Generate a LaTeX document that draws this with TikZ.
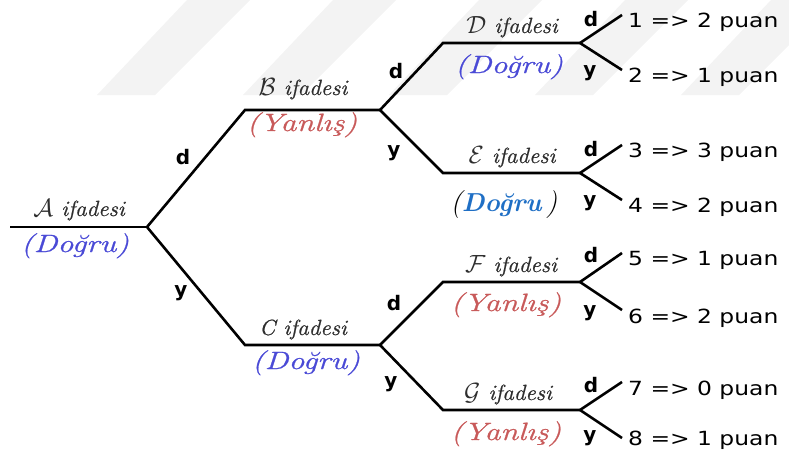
\documentclass[tikz,border=0pt]{standalone}
\usepackage{fontspec}
\newfontfamily\leafsans[FakeStretch=1.2]{DejaVu Sans}
\newfontfamily\dysans{DejaVu Sans}
\newfontfamily\ifdfont[FakeStretch=1.05,FakeBold=0.8]{Latin Modern Roman}
\newfontfamily\dogfont[FakeStretch=1.28,FakeBold=0.9]{Latin Modern Roman}
\definecolor{dogru}{HTML}{4A4AD6}
\definecolor{yanlis}{HTML}{C85A5A}
\definecolor{dogrue}{HTML}{1F6FC5}
\definecolor{stripe}{HTML}{F3F3F3}
\definecolor{ifd}{HTML}{2E2E2E}
\newcommand{\capl}[1]{{\fontsize{26}{26}\selectfont$\mathcal{#1}$}}
\tikzset{
  branch/.style={line width=2.6pt, line join=miter, line cap=butt},
  leaf/.style={anchor=base west, inner sep=0pt, font=\leafsans\fontsize{19.5}{22}\selectfont},
  dy/.style={anchor=base, inner sep=0pt, font=\dysans\bfseries\fontsize{20}{22}\selectfont},
  ifad/.style={anchor=base, inner sep=0pt, text=ifd, font=\ifdfont\itshape\fontsize{22}{24}\selectfont},
  dog/.style={anchor=base, inner sep=0pt, text=dogru, font=\dogfont\itshape\fontsize{25}{27}\selectfont},
  yan/.style={anchor=base, inner sep=0pt, text=yanlis, font=\dogfont\itshape\fontsize{25}{27}\selectfont},
}
\begin{document}
\begin{tikzpicture}[x=1pt,y=-1pt]
\useasboundingbox (0,0) rectangle (789,456);
\clip (0,0) rectangle (789,456);
% faint background stripes
\foreach \k in {0,...,4}{
  \fill[stripe] ({97+146*\k},95) -- ({155+146*\k},95) -- ({250+146*\k},0) -- ({187+146*\k},0) -- cycle;
}
% coordinates
\coordinate (A0) at (10,227);  \coordinate (A1) at (147,227);
\coordinate (B0) at (245,110); \coordinate (B1) at (380,110);
\coordinate (C0) at (245,345); \coordinate (C1) at (380,345);
\coordinate (D0) at (443,43);  \coordinate (D1) at (580,43);
\coordinate (E0) at (443,173); \coordinate (E1) at (580,173);
\coordinate (F0) at (443,282); \coordinate (F1) at (580,282);
\coordinate (G0) at (443,410); \coordinate (G1) at (580,410);
\coordinate (L1) at (622,15);  \coordinate (L2) at (622,70);
\coordinate (L3) at (622,145); \coordinate (L4) at (622,200);
\coordinate (L5) at (622,253); \coordinate (L6) at (622,310);
\coordinate (L7) at (622,382); \coordinate (L8) at (622,438);
% branches
\draw[branch] (A0) -- (A1);
\draw[branch] (A1) -- (B0) -- (B1);
\draw[branch] (A1) -- (C0) -- (C1);
\draw[branch] (B1) -- (D0) -- (D1);
\draw[branch] (B1) -- (E0) -- (E1);
\draw[branch] (C1) -- (F0) -- (F1);
\draw[branch] (C1) -- (G0) -- (G1);
\draw[branch] (D1) -- (L1); \draw[branch] (D1) -- (L2);
\draw[branch] (E1) -- (L3); \draw[branch] (E1) -- (L4);
\draw[branch] (F1) -- (L5); \draw[branch] (F1) -- (L6);
\draw[branch] (G1) -- (L7); \draw[branch] (G1) -- (L8);
% leaf texts
\node[leaf] (t1) at (628,27)  {1 => 2 puan};
\node[leaf] (t2) at (628,82)  {2 => 1 puan};
\node[leaf] (t3) at (628,157) {3 => 3 puan};
\node[leaf] (t4) at (628,212) {4 => 2 puan};
\node[leaf] (t5) at (628,265) {5 => 1 puan};
\node[leaf] (t6) at (628,323) {6 => 2 puan};
\node[leaf] (t7) at (628,395) {7 => 0 puan};
\node[leaf] (t8) at (628,445) {8 => 1 puan};
% d / y labels
\node[dy] (dA) at (183,164) {d}; \node[dy] (yA) at (181,296) {y};
\node[dy] (dB) at (396,78)  {d}; \node[dy] (yB) at (394,156) {y};
\node[dy] (dC) at (394,310) {d}; \node[dy] (yC) at (391,387) {y};
\node[dy] (dD) at (591,26)  {d}; \node[dy] (yD) at (590,76)  {y};
\node[dy] (dE) at (591,156) {d}; \node[dy] (yE) at (590,206) {y};
\node[dy] (dF) at (591,262) {d}; \node[dy] (yF) at (590,316) {y};
\node[dy] (dG) at (591,392) {d}; \node[dy] (yG) at (590,441) {y};
% statement labels
\node[ifad] (nA) at (79,216)  {\capl{A} ifadesi};
\node[dog]  (vA) at (75,252)  {(Doğru)};
\node[ifad] (nB) at (303,95)  {\capl{B} ifadesi};
\node[yan]  (vB) at (302,131) {(Yanlış)};
\node[ifad] (nC) at (303,335) {C ifadesi};
\node[dog]  (vC) at (306,369) {(Doğru)};
\node[ifad] (nD) at (512,33)  {\capl{D} ifadesi};
\node[dog]  (vD) at (509,73)  {(Doğru)};
\node[ifad] (nE) at (512,163) {\capl{E} ifadesi};
\node[anchor=base, inner sep=0pt, font=\itshape\fontsize{28}{30}\selectfont] (vE) at (504,211) {(\textcolor{dogrue}{\bfseries\fontsize{26}{28}\selectfont Doğru}\,)};
\node[ifad] (nF) at (511,272) {\capl{F} ifadesi};
\node[yan]  (vF) at (506,311) {(Yanlış)};
\node[ifad] (nG) at (508,400) {\capl{G} ifadesi};
\node[yan]  (vG) at (506,440) {(Yanlış)};
\end{tikzpicture}
\end{document}
